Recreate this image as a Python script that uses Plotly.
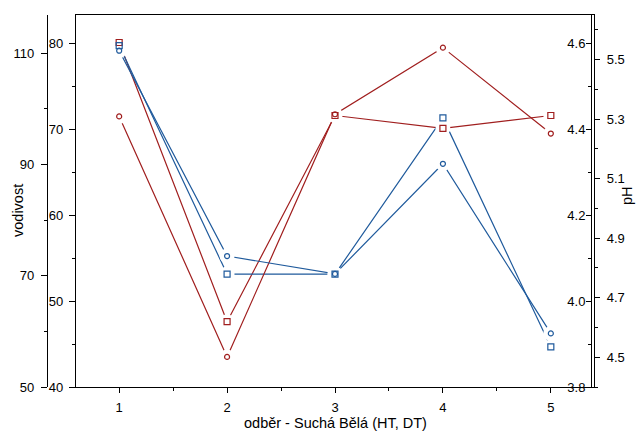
import plotly.graph_objects as go

# Sampling events
samples = [1, 2, 3, 4, 5]
tick_labels = ["1", "2", "3", "4", "5"]

# Conductivity (vodivost) for the two sites
vodivost_ht = [80.1, 47.6, 71.6, 70.1, 71.6]
vodivost_dt = [111.4, 70.3, 70.3, 98.4, 57.2]

# pH for the two sites
ph_ht = [4.43, 3.87, 4.435, 4.59, 4.39]
ph_dt = [5.53, 4.84, 4.78, 5.15, 4.58]

RED = "#a01e1e"
BLUE = "#1f5a9c"
FONT = "Liberation Sans, Arial, sans-serif"

W, H = 639, 438
ML, MR, MT, MB = 0, 0, 15, 51
PLOT_H = H - MT - MB

def px_x(px):
    return px / W

def px_y(py):
    return (H - MB - py) / PLOT_H

# series: (values, colour, symbol, axis range)
series = [
    (vodivost_ht, RED, "square", [40, 83.3]),
    (vodivost_dt, BLUE, "square", [50, 116.9]),
    (ph_ht, RED, "circle", [3.8, 4.666]),
    (ph_dt, BLUE, "circle", [4.4, 5.65]),
]

fig = go.Figure()

n = len(series)
# layer 1: lines, layer 2: white masks (gap round the markers), layer 3: markers
for layer in range(3):
    for i, (vals, col, sym, rng) in enumerate(series):
        ax_id = layer * n + i + 1
        yref = "y" if ax_id == 1 else f"y{ax_id}"
        if layer == 0:
            fig.add_trace(go.Scatter(x=samples, y=vals, mode="lines",
                                     line=dict(color=col, width=1.2),
                                     yaxis=yref, showlegend=False, hoverinfo="skip"))
        elif layer == 1:
            fig.add_trace(go.Scatter(x=samples, y=vals, mode="markers",
                                     marker=dict(symbol="circle", size=15, color="white",
                                                 line=dict(width=0)),
                                     yaxis=yref, showlegend=False, hoverinfo="skip"))
        else:
            fig.add_trace(go.Scatter(x=samples, y=vals, mode="markers",
                                     marker=dict(symbol=sym + "-open",
                                                 size=5 if sym == "circle" else 6,
                                                 color=col, line=dict(width=1.2, color=col)),
                                     yaxis=yref, showlegend=False))

axis_common = dict(showgrid=False, zeroline=False, automargin=False,
                   linecolor="black", linewidth=1.3, tickcolor="black",
                   tickfont=dict(family=FONT, size=13, color="black"))

layout = dict(
    width=W, height=H,
    margin=dict(l=ML, r=MR, t=MT, b=MB),
    paper_bgcolor="white", plot_bgcolor="white",
    template="none",
    showlegend=False,
    xaxis=dict(domain=[px_x(76), px_x(594)], range=[0.6, 5.4],
               tickmode="array", tickvals=samples, ticktext=tick_labels,
               ticks="outside", ticklen=5, tickwidth=1, showline=True, mirror=True,
               ticklabelstandoff=3,
               minor=dict(tickvals=[1.5, 2.5, 3.5, 4.5], ticks="outside",
                          ticklen=3, tickcolor="black"),
               **axis_common),
    # inner left axis
    yaxis=dict(range=series[0][3], anchor="x", side="left",
               tickmode="array", tickvals=[40, 50, 60, 70, 80],
               ticks="outside", ticklen=6, tickwidth=1, showline=True, mirror=True,
               ticklabelstandoff=3,
               minor=dict(tickvals=[45, 55, 65, 75], ticks="outside",
                          ticklen=3, tickcolor="black"),
               **axis_common),
    # outer left axis
    yaxis2=dict(range=series[1][3], overlaying="y", anchor="free",
                position=px_x(47), side="left",
                tickmode="array", tickvals=[50, 70, 90, 110],
                ticks="outside", ticklen=6, tickwidth=1, showline=True,
                ticklabelstandoff=4,
                minor=dict(tickvals=[60, 80, 100], ticks="outside",
                           ticklen=3, tickcolor="black"),
                **axis_common),
    # inner right axis (ticks and labels inside the frame)
    yaxis3=dict(range=series[2][3], overlaying="y", anchor="free",
                position=px_x(591), side="right",
                tickmode="array", tickvals=[3.8, 4.0, 4.2, 4.4, 4.6],
                tickformat=".1f",
                ticks="inside", ticklen=5, tickwidth=1, showline=True,
                ticklabelposition="inside", ticklabeloverflow="allow",
                minor=dict(tickvals=[3.9, 4.1, 4.3, 4.5], ticks="inside",
                           ticklen=3, tickcolor="black"),
                **axis_common),
    # outer right axis
    yaxis4=dict(range=series[3][3], overlaying="y", anchor="x", side="right",
                tickmode="array", tickvals=[4.5, 4.7, 4.9, 5.1, 5.3, 5.5],
                tickformat=".1f",
                ticks="outside", ticklen=5, tickwidth=1, showline=True,
                ticklabelstandoff=4,
                minor=dict(tickvals=[4.4, 4.6, 4.8, 5.0, 5.2, 5.4, 5.6],
                           ticks="outside", ticklen=3, tickcolor="black"),
                **axis_common),
)

# hidden copies of the four scales for the mask and marker layers
for layer in (1, 2):
    for i, (vals, col, sym, rng) in enumerate(series):
        ax_id = layer * n + i + 1
        layout[f"yaxis{ax_id}"] = dict(range=rng, overlaying="y", anchor="x",
                                       visible=False, showgrid=False, zeroline=False)

fig.update_layout(**layout)

title_font = dict(family=FONT, size=14.5, color="black")
fig.add_annotation(text="vodivost", xref="paper", yref="paper",
                   x=px_x(18), y=px_y(211), textangle=-90, showarrow=False,
                   xanchor="center", yanchor="middle", font=title_font)
fig.add_annotation(text="pH", xref="paper", yref="paper",
                   x=px_x(627), y=px_y(196), textangle=-90, showarrow=False,
                   xanchor="center", yanchor="middle", font=title_font)
fig.add_annotation(text="odběr - Suchá Bělá (HT, DT)", xref="paper", yref="paper",
                   x=px_x(335), y=px_y(423), showarrow=False,
                   xanchor="center", yanchor="middle", font=title_font)

fig.write_html("out.html")
